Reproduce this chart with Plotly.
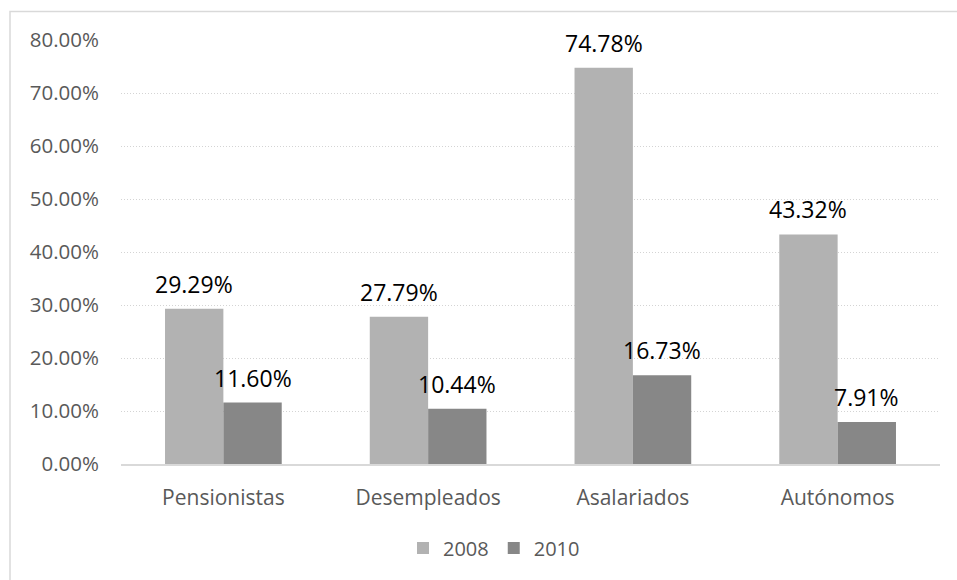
import plotly.graph_objects as go

categories = ["Pensionistas", "Desempleados", "Asalariados", "Autónomos"]
values_2008 = [29.29, 27.79, 74.78, 43.32]
values_2010 = [11.60, 10.44, 16.73, 7.91]
series_names = ["2008", "2010"]
tick_values = [0, 10, 20, 30, 40, 50, 60, 70, 80]
tick_text = [f"{v:.2f}%" for v in tick_values]

colors = ["#b2b2b2", "#878787"]
FONT = "Open Sans"

W, H = 957, 580
ML, MR, MT, MB = 121, 17, 40, 116
PW, PH = W - ML - MR, H - MT - MB

fig = go.Figure()
for name, vals, col in zip(series_names, [values_2008, values_2010], colors):
    fig.add_trace(go.Bar(
        name=name, x=categories, y=vals, marker=dict(color=col, line=dict(width=0)),
        hoverinfo="x+y",
    ))

annotations = []
bar_w = PW / 4 * (1 - 0.43) / 2
for i, (vals, shift) in enumerate([(values_2008, -bar_w / 2), (values_2010, bar_w / 2)]):
    for c, v in zip(categories, vals):
        annotations.append(dict(
            x=c, y=v, xref="x", yref="y", text=f"{v:.2f}%", showarrow=False,
            xshift=shift, yshift=25, yanchor="middle",
            font=dict(family=FONT, size=23, color="#000000"),
        ))

def px_to_paper_x(px):
    return (px - ML) / PW

def px_to_paper_y(py):
    return 1 - (py - MT) / PH

fig.update_layout(
    width=W, height=H,
    margin=dict(l=ML, r=MR, t=MT, b=MB),
    paper_bgcolor="white", plot_bgcolor="white",
    barmode="group", bargap=0.43, bargroupgap=0,
    font=dict(family=FONT, color="#595959", size=20),
    xaxis=dict(
        showline=True, linecolor="#d9d9d9", linewidth=1.5, ticks="",
        tickfont=dict(family=FONT, size=21, color="#595959"),
        showgrid=False, fixedrange=True, ticklabelstandoff=14,
    ),
    yaxis=dict(
        range=[0, 80], tickvals=tick_values, ticktext=tick_text,
        showgrid=True, gridcolor="#d4d4d4", griddash="1px,2px", gridwidth=1,
        zeroline=False, showline=False, ticks="",
        tickfont=dict(family=FONT, size=20.5, color="#595959"),
        ticklabelstandoff=21, fixedrange=True,
    ),
    legend=dict(
        orientation="h", x=px_to_paper_x(494), y=px_to_paper_y(548),
        xanchor="center", yanchor="middle",
        font=dict(family=FONT, size=20, color="#595959"),
        itemwidth=30, traceorder="normal",
    ),
    annotations=annotations,
    shapes=[dict(
        type="rect", xref="paper", yref="paper",
        x0=px_to_paper_x(10), x1=px_to_paper_x(W + 20),
        y0=px_to_paper_y(H + 20), y1=px_to_paper_y(11.5),
        line=dict(color="#d9d9d9", width=1.5), layer="below",
    )],
)

fig.write_html("out.html")
